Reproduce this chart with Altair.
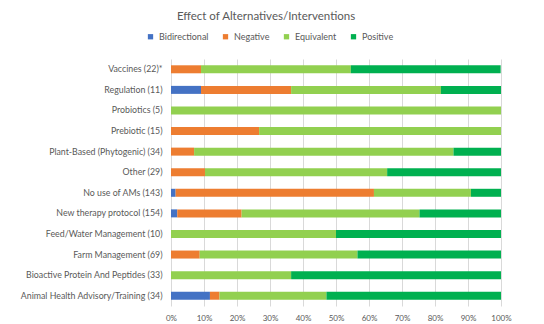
import altair as alt
import pandas as pd

# Interventions, top to bottom
categories = [
    "Vaccines (22)*",
    "Regulation (11)",
    "Probiotics (5)",
    "Prebiotic (15)",
    "Plant-Based (Phytogenic) (34)",
    "Other (29)",
    "No use of AMs (143)",
    "New therapy protocol (154)",
    "Feed/Water Management (10)",
    "Farm Management (69)",
    "Bioactive Protein And Peptides (33)",
    "Animal Health Advisory/Training (34)",
]

effects = ["Bidirectional", "Negative", "Equivalent", "Positive"]
colors = ["#4472C4", "#ED7D31", "#92D050", "#00B050"]

# Share of studies (%) per effect, same order as categories
bidirectional = [0, 9.1, 0, 0, 0, 0, 1.4, 1.9, 0, 0, 0, 11.8]
negative = [9.1, 27.3, 0, 26.7, 7.0, 10.3, 60.1, 19.5, 0, 8.7, 0, 2.9]
equivalent = [45.4, 45.4, 100, 73.3, 78.6, 55.2, 29.4, 53.9, 50.0, 47.8, 36.4, 32.4]
positive = [45.4, 18.2, 0, 0, 14.4, 34.5, 9.1, 24.7, 50.0, 43.5, 63.6, 52.9]

rows = []
series = [bidirectional, negative, equivalent, positive]
for i, cat in enumerate(categories):
    for k, eff in enumerate(effects):
        rows.append({"Intervention": cat, "Effect": eff, "order": k,
                     "share": series[k][i] / 100.0})
df = pd.DataFrame(rows)

FONT = "Lato"

chart = (
    alt.Chart(df)
    .mark_bar(size=8)
    .encode(
        y=alt.Y("Intervention:N", sort=categories, title=None,
                axis=alt.Axis(ticks=False, domain=False, labelPadding=9,
                              labelFontSize=8.8, labelColor="#595959",
                              labelFont=FONT, labelLimit=200)),
        x=alt.X("share:Q", stack="zero", title=None,
                scale=alt.Scale(domain=[0, 1], nice=False),
                axis=alt.Axis(format="%", values=[i / 10 for i in range(11)],
                              ticks=False, domain=False, grid=True,
                              gridColor="#d9d9d9", labelFontSize=8,
                              labelColor="#595959", labelFont=FONT,
                              labelPadding=8, labelFlush=False)),
        color=alt.Color("Effect:N", sort=effects,
                        scale=alt.Scale(domain=effects, range=colors),
                        legend=alt.Legend(orient="none", legendX=-25, legendY=-27,
                                          direction="horizontal", title=None,
                                          symbolType="square", symbolSize=28,
                                          symbolStrokeWidth=0,
                                          labelFontSize=9, labelColor="#595959",
                                          labelFont=FONT, columnPadding=12,
                                          labelOffset=4)),
        order=alt.Order("order:Q"),
    )
    .properties(
        width=330,
        height=247,
        autosize=alt.AutoSizeParams(type="none"),
        padding={"left": 171, "top": 59, "right": 43, "bottom": 18},
        title=alt.Title("Effect of Alternatives/Interventions", fontSize=11.5,
                        font=FONT, fontWeight="normal", color="#595959",
                        anchor="middle", dx=-70, offset=10),
    )
    .configure_view(stroke=None)
    .configure_axisY(grid=False)
)

chart.save("out.html", embed_options={"renderer": "svg", "actions": False})
